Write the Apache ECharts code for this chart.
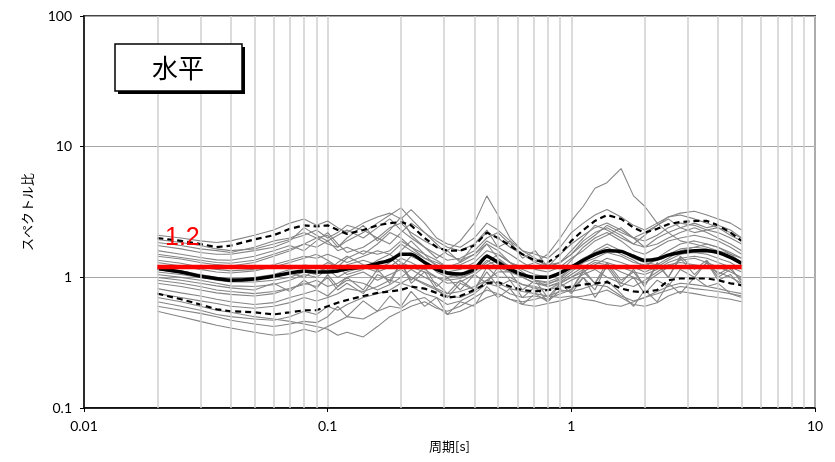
<!DOCTYPE html>
<html><head><meta charset="utf-8">
<script src="https://cdn.jsdelivr.net/npm/echarts@6/dist/echarts.min.js"></script>
<style>html,body{margin:0;padding:0;background:#fff}#c{width:835px;height:462px}</style>
</head><body><div id="c"></div>
<script>
const periods = [0.02,0.025,0.03,0.035,0.04,0.05,0.06,0.07,0.08,0.09,0.1,0.11,0.12,0.14,0.16,0.18,0.2,0.22,0.25,0.28,0.31,0.35,0.4,0.45,0.5,0.56,0.63,0.71,0.8,0.9,1.0,1.12,1.25,1.4,1.6,1.8,2.0,2.25,2.5,2.8,3.2,3.6,4.0,4.5,5.0];
const xTicks = [0.01,0.1,1,10];
const yTicks = [0.1,1,10,100];
const minorX = [0.02,0.03,0.04,0.05,0.06,0.07,0.08,0.09,0.2,0.3,0.4,0.5,0.6,0.7,0.8,0.9,2,3,4,5,6,7,8,9];
const refValue = 1.2;
const refRange = [0.02, 5];

const g01 = [2.1,2.0,1.9,1.85,1.9, 2.1,2.3,2.6,2.8,2.5, 2.7,2.4,2.2,2.6,2.9, 3.1,2.8,3.3,2.6,2.0, 1.8,1.7,2.0,2.6,2.3, 1.9,1.6,1.5,1.4,1.7, 2.2,2.6,3.0,3.3,2.9, 2.5,2.3,2.6,2.9,3.1, 3.2,3.0,2.8,2.6,2.3];
const g02 = [0.55,0.5,0.46,0.43,0.41, 0.38,0.36,0.37,0.4,0.38, 0.42,0.46,0.5,0.48,0.55, 0.6,0.58,0.66,0.7,0.6, 0.52,0.55,0.62,0.7,0.75, 0.68,0.62,0.6,0.63,0.66, 0.7,0.72,0.75,0.8,0.7, 0.62,0.6,0.64,0.72,0.78, 0.75,0.72,0.7,0.68,0.65];
const g03 = [1.85,1.75,1.65,1.6,1.55, 1.7,1.9,2.0,2.2,2.0, 2.1,1.7,2.0,2.5,1.9, 2.3,2.9,2.1,1.7,1.4, 1.6,1.3,1.8,2.3,1.7, 1.9,1.4,1.6,1.2,1.5, 1.8,2.1,2.4,2.6,2.3, 2.0,1.9,2.1,2.4,2.6, 2.5,2.3,2.2,2.0,1.8];
const g04 = [0.65,0.6,0.56,0.52,0.5, 0.48,0.47,0.5,0.55,0.52, 0.6,0.56,0.62,0.7,0.75, 0.8,0.9,0.85,0.75,0.7, 0.62,0.66,0.75,0.9,0.85, 0.75,0.7,0.72,0.68,0.75, 0.8,1.0,0.7,0.95,0.75, 0.6,0.8,0.65,0.9,0.75, 1.0,0.85,0.9,0.75,0.7];
const g05 = [1.45,1.38,1.3,1.25,1.22, 1.3,1.45,1.6,1.8,1.7, 1.9,1.6,1.7,1.5,1.8, 2.2,2.0,1.7,1.5,1.35, 1.2,1.25,1.4,1.8,1.6, 1.3,1.15,1.05,1.0,1.1, 1.35,1.7,2.0,2.2,1.9, 1.6,1.5,1.7,1.9,2.0, 2.1,2.0,1.9,1.7,1.5];
const g06 = [0.9,0.85,0.8,0.76,0.74, 0.72,0.75,0.82,0.9,0.85, 1.0,0.8,0.9,0.75,1.05, 0.95,1.3,0.9,1.1,0.8, 0.7,0.9,0.8,1.2,1.0, 1.0,0.88,0.82,0.8,0.9, 1.0,1.15,1.3,1.25,1.1, 1.0,0.9,1.05,1.2,1.35, 1.4,1.3,1.2,1.1,1.0];
const g07 = [1.95,1.85,1.75,1.65,1.6, 1.65,1.8,1.95,2.1,2.3, 2.0,2.2,2.5,2.3,2.0, 2.4,2.6,2.2,1.9,1.7, 1.6,1.9,2.6,4.2,3.0, 2.0,1.6,1.4,1.2,1.3, 1.5,1.9,2.2,2.4,2.1, 1.8,1.7,2.0,2.2,2.4, 2.6,2.4,2.5,2.3,2.0];
const g08 = [1.2,1.12,1.05,1.0,0.98, 1.0,1.05,1.15,1.25,1.2, 1.1,1.3,1.45,1.25,1.15, 1.3,1.6,1.9,1.5,1.2, 1.05,1.0,1.1,1.3,1.5, 1.3,1.1,0.95,0.9,0.95, 1.1,1.3,1.6,1.8,1.6, 1.4,1.3,1.25,1.4,1.6, 1.7,1.8,1.7,1.5,1.3];
const g09 = [0.6,0.56,0.53,0.5,0.47, 0.44,0.42,0.44,0.46,0.45, 0.5,0.6,0.5,0.66,0.55, 0.72,0.6,0.78,0.6,0.7, 0.52,0.65,0.6,0.85,0.7, 0.82,0.62,0.75,0.65,0.8, 0.78,0.82,0.88,0.85,0.72, 0.66,0.7,0.78,0.85,0.9, 0.88,0.85,0.82,0.78,0.75];
const g10 = [1.6,1.5,1.42,1.36,1.35, 1.45,1.6,1.75,1.6,1.9, 2.2,1.8,1.55,1.7,2.0, 1.8,2.2,2.6,2.2,1.8, 1.5,1.35,1.5,1.9,1.7, 1.5,1.3,1.15,1.1,1.2, 1.4,1.6,1.9,2.1,2.4, 2.0,1.7,1.8,2.0,2.2, 2.4,2.2,2.0,1.8,1.6];
const g11 = [0.75,0.7,0.66,0.63,0.6, 0.58,0.6,0.64,0.7,0.66, 0.7,0.75,0.82,0.78,0.85, 0.95,0.9,1.0,0.88,0.8, 0.72,0.7,0.78,0.95,0.9, 0.82,0.78,0.75,0.72,0.78, 0.8,1.1,0.9,1.2,0.85, 1.0,0.75,0.95,0.85,1.15, 1.0,1.3,0.95,1.05,0.85];
const g12 = [1.35,1.28,1.2,1.15,1.12, 1.15,1.25,1.35,1.45,1.4, 1.5,1.4,1.3,1.45,1.6, 1.5,1.8,1.6,1.4,1.25, 1.1,1.15,1.3,1.6,1.5, 1.3,1.2,1.3,1.5,2.0, 2.7,3.5,4.8,5.3,6.8, 4.2,3.5,2.6,2.2,1.9, 1.8,1.7,1.6,1.5,1.4];
const g13 = [1.05,1.0,0.95,0.9,0.86, 0.85,0.88,0.95,1.05,1.0, 1.15,1.0,1.1,1.2,1.1, 1.2,1.4,1.3,1.15,1.0, 0.9,0.92,1.05,1.25,1.35, 1.2,1.05,0.95,0.85,0.9, 1.0,1.1,1.25,1.4,1.3, 1.2,1.1,1.2,1.35,1.5, 1.55,1.5,1.4,1.3,1.15];
const g14 = [1.75,1.65,1.55,1.5,1.5, 1.6,1.7,1.9,2.4,2.1, 1.9,2.1,2.3,2.0,2.4, 2.8,2.3,2.0,1.7,1.5, 1.35,1.4,1.6,2.0,2.2, 1.8,1.5,1.3,1.2,1.3, 1.6,2.0,2.5,2.3,2.0, 1.8,2.1,2.5,2.8,2.4, 2.2,2.3,2.4,2.1,1.9];
const g15 = [0.82,0.76,0.72,0.68,0.65, 0.62,0.64,0.7,0.75,0.8, 0.72,0.85,0.95,0.9,0.8, 0.88,1.0,1.15,1.0,0.9, 0.75,0.95,0.8,1.1,0.85, 0.95,0.7,0.85,0.65,0.9, 0.8,1.15,0.9,1.3,0.95, 1.1,0.85,1.25,1.0,1.45, 1.15,1.35,1.05,1.2,0.9];
const g16 = [1.3,1.22,1.15,1.1,1.08, 1.12,1.2,1.3,1.4,1.5, 1.35,1.2,1.4,1.6,1.5, 1.6,1.9,1.7,1.4,1.3, 1.2,1.3,1.5,1.8,1.4, 1.2,1.05,0.95,0.92,1.0, 1.2,1.4,1.55,1.7,1.5, 1.35,1.2,1.4,1.6,1.8, 1.9,1.8,1.7,1.55,1.4];
const g17 = [0.7,0.65,0.6,0.56,0.54, 0.5,0.48,0.46,0.44,0.42, 0.4,0.36,0.38,0.35,0.42, 0.5,0.55,0.6,0.65,0.58, 0.55,0.6,0.7,0.8,0.75, 0.68,0.65,0.68,0.72,0.7, 0.72,0.68,0.66,0.62,0.6, 0.65,0.7,0.75,0.8,0.85, 0.82,0.8,0.78,0.75,0.72];
const g18 = [1.15,1.08,1.02,0.98,0.95, 0.98,1.02,1.08,1.0,1.15, 1.3,1.2,1.05,1.15,1.35, 1.5,1.3,1.2,1.1,1.0, 0.95,0.98,1.1,1.35,1.2, 1.1,1.0,0.9,0.88,0.98, 1.15,1.3,1.4,1.55,1.45, 1.3,1.25,1.35,1.5,1.65, 1.7,1.65,1.55,1.4,1.25];
const g19 = [1.0,0.95,0.9,0.86,0.83, 0.8,0.9,0.78,0.95,0.82, 1.05,0.85,1.0,0.8,1.15, 0.9,1.3,0.95,1.2,0.85, 1.0,0.8,1.05,0.9,1.2, 0.95,0.88,0.85,0.8,0.85, 0.95,1.05,1.15,1.0,0.9, 0.85,0.95,1.1,1.25,1.3, 1.25,1.2,1.1,1.0,0.9];
const g20 = [1.5,1.42,1.35,1.3,1.28, 1.35,1.5,1.65,1.8,2.0, 1.8,1.7,1.9,2.2,2.6, 3.0,3.4,2.8,2.2,1.9, 1.7,1.6,1.8,2.2,2.0, 1.7,1.5,1.35,1.25,1.3, 1.5,1.8,2.1,2.5,2.2, 2.0,2.2,2.5,2.9,3.0, 2.8,2.6,2.4,2.2,2.0];
const g21 = [0.95,0.9,0.85,0.8,0.78, 0.75,0.78,0.82,0.88,0.95, 0.85,0.9,1.0,1.1,0.95, 1.05,1.15,1.0,0.9,0.82, 0.75,0.78,0.85,0.95,1.1, 1.1,0.8,0.95,0.7,0.9, 0.75,1.0,0.8,1.25,0.9, 1.15,0.85,1.3,1.0,1.4, 1.05,1.3,1.0,1.15,0.95];
const g22 = [1.1,1.05,1.0,0.95,0.92, 0.92,0.95,1.0,1.1,1.05, 1.2,1.1,1.25,1.35,1.25, 1.4,1.2,1.45,1.3,1.1, 1.0,1.05,1.2,1.5,1.3, 1.15,1.0,0.9,0.85,0.92, 1.05,1.2,1.35,1.3,1.2, 1.1,1.05,1.15,1.3,1.4, 1.45,1.4,1.3,1.2,1.1];
const grayRecords = [g01,g02,g03,g04,g05,g06,g07,g08,g09,g10,g11,g12,g13,g14,g15,g16,g17,g18,g19,g20,g21,g22];

const meanVals  = [1.17,1.1,1.02,0.98,0.95, 0.97,1.02,1.08,1.12,1.1, 1.1,1.12,1.16,1.2,1.28, 1.35,1.5,1.5,1.3,1.15, 1.08,1.06,1.15,1.45,1.3, 1.15,1.05,1.0,1.0,1.08, 1.2,1.35,1.5,1.6,1.58, 1.45,1.35,1.38,1.48,1.55, 1.6,1.6,1.55,1.42,1.28];
const upperVals = [2.0,1.9,1.8,1.7,1.75, 1.95,2.1,2.35,2.5,2.45, 2.5,2.3,2.15,2.3,2.5, 2.6,2.65,2.5,2.0,1.7, 1.6,1.6,1.75,2.2,2.0, 1.75,1.5,1.35,1.3,1.5, 1.9,2.3,2.7,3.0,2.8, 2.4,2.2,2.35,2.55,2.65, 2.7,2.7,2.5,2.2,1.9];
const lowerVals = [0.75,0.68,0.62,0.57,0.55, 0.54,0.52,0.54,0.56,0.56, 0.6,0.64,0.67,0.72,0.76, 0.78,0.8,0.85,0.82,0.76, 0.7,0.72,0.8,0.9,0.92, 0.85,0.8,0.78,0.8,0.82, 0.85,0.88,0.9,0.92,0.82, 0.78,0.77,0.8,0.95,0.98, 0.98,0.98,0.95,0.9,0.87];

const zip = vals => periods.map((p, i) => [p, vals[i]]);
const series = [];
series.push({
  type: 'line', data: [], z: 1, silent: true,
  markLine: { silent: true, symbol: 'none', label: { show: false },
    lineStyle: { color: '#cfcfcf', width: 1.5, type: 'solid' },
    data: minorX.map(v => ({ xAxis: v })) }
});
grayRecords.forEach(g => series.push({
  type: 'line', data: zip(g), showSymbol: false, z: 2, silent: true,
  lineStyle: { color: '#858585', width: 1.1 }
}));
[upperVals, lowerVals].forEach(v => series.push({
  type: 'line', data: zip(v), showSymbol: false, z: 3, silent: true,
  lineStyle: { color: '#000', width: 2.2, type: [6, 4] }
}));
series.push({ type: 'line', data: zip(meanVals), showSymbol: false, z: 4, silent: true, smooth: 0.2,
  lineStyle: { color: '#000', width: 3.5 } });
series.push({ type: 'line', z: 5, silent: true, symbol: 'circle', symbolSize: 0, showSymbol: true,
  data: [
    { value: [refRange[0], refValue], label: { show: true, position: 'top', offset: [25, -11],
      formatter: String(refValue), color: '#ff0000', fontSize: 25, fontFamily: 'Liberation Sans' } },
    { value: [refRange[1], refValue] }
  ],
  lineStyle: { color: '#ff0000', width: 4.5 } });

const chart = echarts.init(document.getElementById('c'), null, { renderer: 'canvas' });
const axisFont = { color: '#000', fontSize: 14, fontFamily: 'Lato' };
chart.setOption({
  animation: false,
  grid: { left: 84, right: 20, top: 16, bottom: 54, show: true, borderColor: '#444', borderWidth: 2, backgroundColor: 'transparent' },
  xAxis: {
    type: 'log', logBase: 10, min: xTicks[0], max: xTicks[xTicks.length - 1],
    name: '周期[s]', nameLocation: 'middle', nameGap: 32,
    nameTextStyle: { fontSize: 13, color: '#000', fontFamily: 'Noto Sans CJK JP' },
    axisLine: { lineStyle: { color: '#000', width: 1.5 } },
    axisTick: { length: 4, lineStyle: { color: '#000' } },
    axisLabel: Object.assign({ margin: 11, formatter: v => String(v) }, axisFont),
    splitLine: { show: true, lineStyle: { color: '#cfcfcf', width: 1.5 } }
  },
  yAxis: {
    type: 'log', logBase: 10, min: yTicks[0], max: yTicks[yTicks.length - 1],
    name: 'スペクトル比', nameLocation: 'middle', nameGap: 50, nameRotate: 90,
    nameTextStyle: { fontSize: 13, color: '#000', fontFamily: 'Noto Sans CJK JP' },
    axisLine: { lineStyle: { color: '#000', width: 1.5 } },
    axisTick: { length: 4, lineStyle: { color: '#000' } },
    axisLabel: Object.assign({ margin: 12, formatter: v => String(v) }, axisFont),
    splitLine: { show: true, lineStyle: { color: '#a6a6a6', width: 1.2 } }
  },
  graphic: [
    { type: 'rect', z: 100, shape: { x: 118, y: 47, width: 127, height: 47 },
      style: { fill: '#000' } },
    { type: 'rect', z: 101, shape: { x: 115, y: 44, width: 127, height: 47 },
      style: { fill: '#fff', stroke: '#000', lineWidth: 1.5 } },
    { type: 'text', z: 102, x: 178, y: 68,
      style: { text: '水平', fontSize: 26, fontFamily: 'Noto Sans CJK JP', fill: '#000', align: 'center', verticalAlign: 'middle' } }
  ],
  series: series
});
</script></body></html>
